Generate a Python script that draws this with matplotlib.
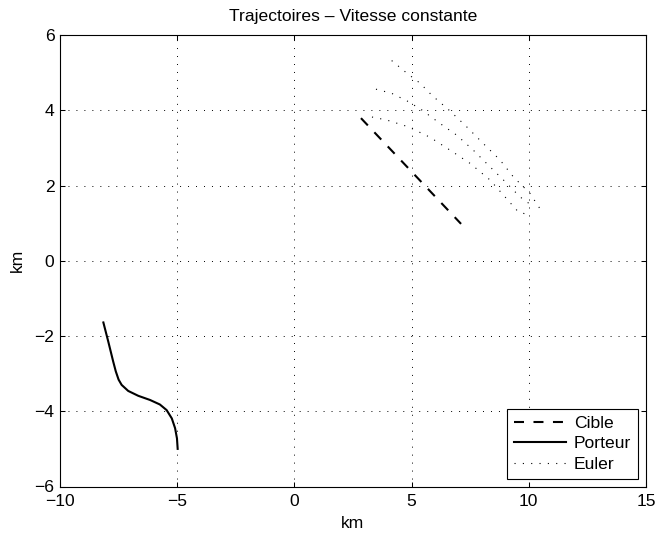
import matplotlib
matplotlib.use("Agg")
import matplotlib.pyplot as plt

plt.rcParams['font.family'] = ['Liberation Sans', 'DejaVu Sans']

cible_x = [2.84, 7.11]
cible_y = [3.79, 0.98]

porteur_x = [-8.15, -7.94, -7.73, -7.62, -7.50, -7.37, -7.09, -6.66, -6.16, -5.74, -5.45, -5.23, -5.09, -5.01, -4.98]
porteur_y = [-1.64, -2.15, -2.68, -2.94, -3.16, -3.30, -3.46, -3.59, -3.70, -3.82, -3.97, -4.19, -4.45, -4.72, -5.00]

euler1_x = [4.15, 4.79, 5.36, 5.86, 6.64, 7.35, 8.05, 8.77, 9.34, 10.05, 10.48]
euler1_y = [5.32, 4.99, 4.72, 4.40, 3.98, 3.56, 3.12, 2.68, 2.23, 1.79, 1.38]
euler2_x = [3.48, 4.15, 4.86, 5.43, 6.21, 6.92, 7.63, 8.34, 9.06, 9.62, 10.19]
euler2_y = [4.56, 4.45, 4.23, 4.01, 3.65, 3.34, 2.94, 2.50, 2.06, 1.70, 1.44]
euler3_x = [3.31, 3.94, 4.86, 5.79, 6.64, 7.49, 8.34, 8.91, 9.55, 9.88]
euler3_y = [3.82, 3.74, 3.56, 3.28, 2.94, 2.59, 2.15, 1.75, 1.30, 1.24]

xticks = [-10, -5, 0, 5, 10, 15]
yticks = [-6, -4, -2, 0, 2, 4, 6]

FS = 12.6

fig = plt.figure(figsize=(6.56, 5.33), dpi=100)
ax = fig.add_axes([60/656, 1-486.5/533, (646-60)/656, (486.5-35)/533])

dot = (0, (1, 6.5))
l1, = ax.plot(cible_x, cible_y, color='black', lw=1.5, linestyle=(0, (4.8, 4.55)), label='Cible')
l2, = ax.plot(porteur_x, porteur_y, color='black', lw=1.5, label='Porteur')
l3, = ax.plot(euler1_x, euler1_y, color='black', lw=0.8, linestyle=dot, label='Euler')
ax.plot(euler2_x, euler2_y, color='black', lw=0.8, linestyle=dot)
ax.plot(euler3_x, euler3_y, color='black', lw=0.8, linestyle=dot)

ax.set_xlim(-10, 15)
ax.set_ylim(-6, 6)
ax.set_xticks(xticks)
ax.set_yticks(yticks)
ax.grid(True, color='black', linestyle=(0, (1, 7.2)), lw=0.7)
ax.tick_params(direction='in', top=True, right=True, labelsize=FS, length=3.6, width=0.75)
ax.tick_params(axis='x', pad=5.5)
ax.tick_params(axis='y', pad=4)
for s in ax.spines.values():
    s.set_linewidth(0.8)

ax.set_title('Trajectoires \u2013 Vitesse constante', fontsize=FS, pad=10)
ax.set_xlabel('km', fontsize=FS, labelpad=5)
ax.set_ylabel('km', fontsize=FS, labelpad=7)

leg = ax.legend(handles=[l1, l2, l3], loc='lower right', fontsize=FS,
                fancybox=False, framealpha=1, edgecolor='black',
                handlelength=3.0, borderaxespad=0.43, labelspacing=0.3,
                borderpad=0.4, handletextpad=0.45)
leg.get_frame().set_linewidth(0.8)

fig.savefig('out.png', dpi=100)
